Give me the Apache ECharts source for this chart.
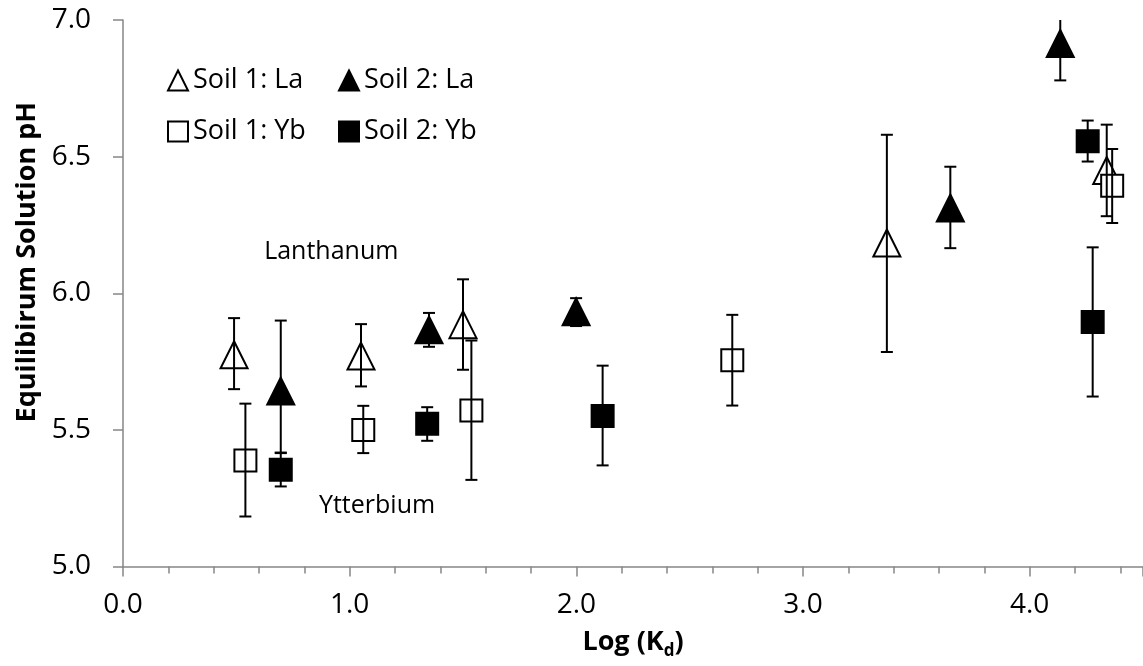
<!DOCTYPE html>
<html>
<head>
<meta charset="utf-8">
<script src="https://cdn.jsdelivr.net/npm/echarts@6/dist/echarts.min.js"></script>
<style>
html,body{margin:0;padding:0;background:#fff;}
#chart{width:1143px;height:666px;}
</style>
</head>
<body>
<div id="chart"></div>
<script>
// ---- Data ----
const soil1LaX    = [0.49, 1.05, 1.50, 3.37, 4.34];
const soil1LaY    = [5.775, 5.770, 5.885, 6.184, 6.449];
const soil1LaLow  = [5.649, 5.659, 5.720, 5.785, 6.282];
const soil1LaHigh = [5.909, 5.887, 6.051, 6.580, 6.617];

const soil2LaX    = [0.696, 1.350, 1.999, 3.650, 4.135];
const soil2LaY    = [5.642, 5.866, 5.932, 6.312, 6.914];
const soil2LaLow  = [5.417, 5.804, 5.880, 6.165, 6.779];
const soil2LaHigh = [5.900, 5.928, 5.982, 6.463, 7.050];

const soil1YbX    = [0.540, 1.060, 1.537, 2.688, 4.364];
const soil1YbY    = [5.388, 5.500, 5.571, 5.755, 6.393];
const soil1YbLow  = [5.183, 5.415, 5.317, 5.589, 6.257];
const soil1YbHigh = [5.596, 5.588, 5.827, 5.921, 6.528];

const soil2YbX    = [0.696, 1.342, 2.116, 4.278, 4.256];
const soil2YbY    = [5.354, 5.522, 5.551, 5.895, 6.556];
const soil2YbLow  = [5.293, 5.460, 5.370, 5.622, 6.482];
const soil2YbHigh = [5.415, 5.583, 5.735, 6.168, 6.632];

const seriesNames = ['Soil 1: La', 'Soil 2: La', 'Soil 1: Yb', 'Soil 2: Yb'];
const annotationLabels = ['Lanthanum', 'Ytterbium'];
const annotationX = [0.921, 1.123];
const annotationY = [6.148, 5.219];

const xTicks = { min: 0, max: 4.5, interval: 1 };
const yTicks = { min: 5.0, max: 7.0, interval: 0.5 };

// ---- Build ----
const FONT = 'Open Sans';
function pts(xs, ys) { return xs.map((x, i) => [x, ys[i]]); }
function errs(xs, lo, hi) { return xs.map((x, i) => [x, lo[i], hi[i]]); }

function errorRender(params, api) {
  const x = api.value(0), lo = api.value(1), hi = api.value(2);
  const cs = params.coordSys;
  const top = cs.y, bottom = cs.y + cs.height;
  const pLo = api.coord([x, lo]);
  const pHi = api.coord([x, hi]);
  const hw = 6;
  const style = { stroke: '#000', lineWidth: 2, fill: null };
  const children = [];
  const yHi = Math.max(pHi[1], top);
  const yLo = Math.min(pLo[1], bottom);
  children.push({ type: 'line', shape: { x1: pLo[0], y1: yLo, x2: pHi[0], y2: yHi }, style });
  if (pHi[1] >= top) children.push({ type: 'line', shape: { x1: pHi[0] - hw, y1: pHi[1], x2: pHi[0] + hw, y2: pHi[1] }, style });
  if (pLo[1] <= bottom) children.push({ type: 'line', shape: { x1: pLo[0] - hw, y1: pLo[1], x2: pLo[0] + hw, y2: pLo[1] }, style });
  return { type: 'group', children };
}

function markerSeries(name, symbol, size, filled, data) {
  return {
    name, type: 'scatter', symbol, symbolSize: size, data, z: 2,
    itemStyle: { color: filled ? '#000' : '#fff', borderColor: '#000', borderWidth: 2, opacity: 1 },
    emphasis: { disabled: true }
  };
}
function errorSeries(name, data) {
  return {
    name: name + ' error', type: 'custom', renderItem: errorRender, data, z: 3,
    encode: { x: 0, y: [1, 2] }, silent: true
  };
}

const series = [
  markerSeries(seriesNames[0], 'triangle', 27, false, pts(soil1LaX, soil1LaY)),
  markerSeries(seriesNames[1], 'triangle', 27, true, pts(soil2LaX, soil2LaY)),
  markerSeries(seriesNames[2], 'rect', 22, false, pts(soil1YbX, soil1YbY)),
  markerSeries(seriesNames[3], 'rect', 22, true, pts(soil2YbX, soil2YbY)),
  errorSeries(seriesNames[0], errs(soil1LaX, soil1LaLow, soil1LaHigh)),
  errorSeries(seriesNames[1], errs(soil2LaX, soil2LaLow, soil2LaHigh)),
  errorSeries(seriesNames[2], errs(soil1YbX, soil1YbLow, soil1YbHigh)),
  errorSeries(seriesNames[3], errs(soil2YbX, soil2YbLow, soil2YbHigh)),
  {
    name: 'annotations', type: 'scatter', symbolSize: 1, silent: true,
    itemStyle: { color: 'rgba(0,0,0,0)' },
    data: annotationLabels.map((t, i) => ({ value: [annotationX[i], annotationY[i]], name: t })),
    label: {
      show: true, position: [0, 0], align: 'center', verticalAlign: 'middle',
      formatter: p => p.name, color: '#000', textBorderWidth: 0, opacity: 1,
      fontFamily: FONT, fontSize: 25
    },
    emphasis: { disabled: true }
  }
];

const axisGray = '#868686';
const legendCommon = {
  orient: 'vertical', itemWidth: 20, itemHeight: 20, itemGap: 24, top: 67, padding: 0,
  textStyle: { fontFamily: FONT, fontSize: 27, color: '#000' }, selectedMode: false
};

const option = {
  animation: false,
  backgroundColor: '#fff',
  grid: { left: 123, top: 20, width: 1024, height: 546.5, containLabel: false },
  legend: [
    Object.assign({ left: 167, data: [seriesNames[0], seriesNames[2]] }, legendCommon),
    Object.assign({ left: 338, data: [seriesNames[1], seriesNames[3]] }, legendCommon)
  ],
  xAxis: {
    type: 'value', min: xTicks.min, max: xTicks.max, interval: xTicks.interval,
    name: '{a|Log (K}{s|d}{a|)}', nameLocation: 'middle', nameGap: 62,
    nameTextStyle: {
      rich: {
        a: { fontFamily: FONT, fontSize: 27, fontWeight: 'bold', color: '#000', lineHeight: 36, verticalAlign: 'top' },
        s: { fontFamily: FONT, fontSize: 17, fontWeight: 'bold', color: '#000', lineHeight: 36, verticalAlign: 'top', padding: [14, 0, 0, 0] }
      }
    },
    axisLine: { show: true, onZero: false, lineStyle: { color: axisGray, width: 1.5 } },
    axisTick: { show: true, length: 10, lineStyle: { color: axisGray, width: 1.5 } },
    minorTick: { show: true, splitNumber: 5, length: 7, lineStyle: { color: axisGray, width: 1.5 } },
    splitLine: { show: false },
    axisLabel: { margin: 25, fontFamily: FONT, fontSize: 28, color: '#000', showMaxLabel: false, formatter: v => v.toFixed(1) }
  },
  yAxis: {
    type: 'value', min: yTicks.min, max: yTicks.max, interval: yTicks.interval,
    name: 'Equilibirum Solution pH', nameLocation: 'middle', nameGap: 81,
    nameTextStyle: { fontFamily: FONT, fontSize: 27, fontWeight: 'bold', color: '#000', padding: [0, 0, 0, 62] },
    axisLine: { show: true, onZero: false, lineStyle: { color: axisGray, width: 1.5 } },
    axisTick: { show: true, length: 10, lineStyle: { color: axisGray, width: 1.5 } },
    splitLine: { show: false },
    axisLabel: { margin: 32, fontFamily: FONT, fontSize: 28, color: '#000', formatter: v => v.toFixed(1) }
  },
  series
};

const chart = echarts.init(document.getElementById('chart'), null, { renderer: 'canvas' });
chart.setOption(option);
</script>
</body>
</html>
